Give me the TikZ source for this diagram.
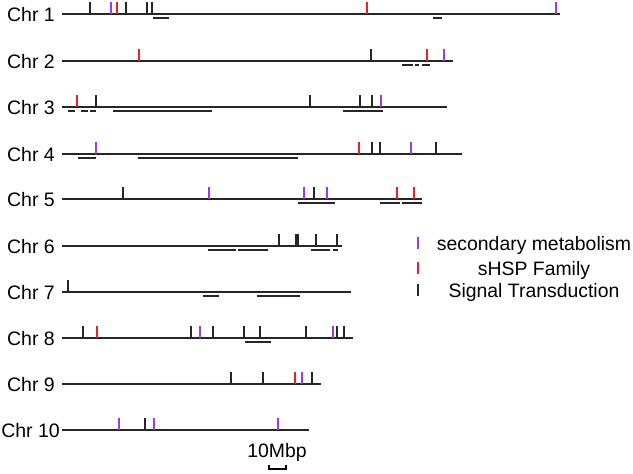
\documentclass[tikz,border=0pt]{standalone}
\usepackage{fontspec}
\setmainfont{Liberation Sans}
\usetikzlibrary{positioning}
\definecolor{smpurple}{RGB}{150,60,235}
\definecolor{hspred}{RGB}{232,32,40}

\begin{document}
\begin{tikzpicture}[
  x=1pt, y=-1pt,
  chrlabel/.style={anchor=base east, inner sep=0pt, font=\fontsize{19.5}{21}\selectfont},
  legtext/.style={anchor=base, inner sep=0pt, font=\fontsize{19.4}{21}\selectfont},
  chrline/.style={line width=1.6pt, black!85},
  under/.style={line width=1.4pt, black!85},
  sig/.style={line width=1.4pt, black!85},
  smb/.style={line width=1.4pt, smpurple},
  hsp/.style={line width=1.4pt, hspred},
]
\useasboundingbox (0,0) rectangle (633,474);

% ---- Chr 1 ----
\node[chrlabel] (c1) at (55,21) {Chr 1};
\draw[chrline] (62,14) -- (560,14);
\foreach \x in {90,126,147,152} \draw[sig] (\x,14) -- ++(0,-12);
\foreach \x in {111,556} \draw[smb] (\x,14) -- ++(0,-12);
\foreach \x in {117,367} \draw[hsp] (\x,14) -- ++(0,-12);
\foreach \a/\b in {153/169,433/442} \draw[under] (\a,18) -- (\b,18);

% ---- Chr 2 ----
\node[chrlabel] (c2) at (55,68) {Chr 2};
\draw[chrline] (62,61) -- (453,61);
\foreach \x in {371} \draw[sig] (\x,61) -- ++(0,-12);
\foreach \x in {444} \draw[smb] (\x,61) -- ++(0,-12);
\foreach \x in {139,427} \draw[hsp] (\x,61) -- ++(0,-12);
\foreach \a/\b in {402/413,415/419,422/430} \draw[under] (\a,65) -- (\b,65);

% ---- Chr 3 ----
\node[chrlabel] (c3) at (55,114) {Chr 3};
\draw[chrline] (62,107) -- (447,107);
\foreach \x in {96,310,360,372} \draw[sig] (\x,107) -- ++(0,-12);
\foreach \x in {381} \draw[smb] (\x,107) -- ++(0,-12);
\foreach \x in {77} \draw[hsp] (\x,107) -- ++(0,-12);
\foreach \a/\b in {68/75,81/88,90/96,113/212,343/383} \draw[under] (\a,111) -- (\b,111);

% ---- Chr 4 ----
\node[chrlabel] (c4) at (55,161) {Chr 4};
\draw[chrline] (62,154) -- (462,154);
\foreach \x in {372,380,436} \draw[sig] (\x,154) -- ++(0,-12);
\foreach \x in {96,411} \draw[smb] (\x,154) -- ++(0,-12);
\foreach \x in {359} \draw[hsp] (\x,154) -- ++(0,-12);
\foreach \a/\b in {78/96,138/298} \draw[under] (\a,158) -- (\b,158);

% ---- Chr 5 ----
\node[chrlabel] (c5) at (55,206) {Chr 5};
\draw[chrline] (62,199) -- (422,199);
\foreach \x in {123,314} \draw[sig] (\x,199) -- ++(0,-12);
\foreach \x in {209,304,327} \draw[smb] (\x,199) -- ++(0,-12);
\foreach \x in {397,414} \draw[hsp] (\x,199) -- ++(0,-12);
\foreach \a/\b in {298/335,380/400,402/422} \draw[under] (\a,203) -- (\b,203);

% ---- Chr 6 ----
\node[chrlabel] (c6) at (55,253) {Chr 6};
\draw[chrline] (62,246) -- (342,246);
\foreach \x in {279,296,298,316,337} \draw[sig] (\x,246) -- ++(0,-12);
\foreach \a/\b in {208/236,238/268,311/330,333/338} \draw[under] (\a,250) -- (\b,250);

% ---- Chr 7 ----
\node[chrlabel] (c7) at (55,299) {Chr 7};
\draw[chrline] (62,292) -- (351,292);
\foreach \x in {68} \draw[sig] (\x,292) -- ++(0,-12);
\foreach \a/\b in {203/219,257/300} \draw[under] (\a,296) -- (\b,296);

% ---- Chr 8 ----
\node[chrlabel] (c8) at (55,345) {Chr 8};
\draw[chrline] (62,338) -- (353,338);
\foreach \x in {83,191,213,244,260,306,337,344} \draw[sig] (\x,338) -- ++(0,-12);
\foreach \x in {200,333} \draw[smb] (\x,338) -- ++(0,-12);
\foreach \x in {97} \draw[hsp] (\x,338) -- ++(0,-12);
\foreach \a/\b in {245/271} \draw[under] (\a,342) -- (\b,342);

% ---- Chr 9 ----
\node[chrlabel] (c9) at (55,391) {Chr 9};
\draw[chrline] (62,384) -- (321,384);
\foreach \x in {231,263,312} \draw[sig] (\x,384) -- ++(0,-12);
\foreach \x in {302} \draw[smb] (\x,384) -- ++(0,-12);
\foreach \x in {295} \draw[hsp] (\x,384) -- ++(0,-12);

% ---- Chr 10 ----
\node[chrlabel] (c10) at (60,437) {Chr 10};
\draw[chrline] (62,430) -- (309,430);
\foreach \x in {145} \draw[sig] (\x,430) -- ++(0,-12);
\foreach \x in {119,154,278} \draw[smb] (\x,430) -- ++(0,-12);

% ---- scale ----
\node[legtext] (scl) at (277,457) {10Mbp};
\draw[line width=1.3pt] (269,465) -- (269,469) -- (286,469) -- (286,465);

% ---- legend ----
\draw[smb] (418,237) -- (418,249);
\draw[hsp] (418,262) -- (418,274);
\draw[sig] (418,284) -- (418,296);
\node[legtext] (lsm)  at (534,250) {secondary metabolism};
\node[legtext] (lhsp) at (534,275) {sHSP Family};
\node[legtext] (lsig) at (534,297) {Signal Transduction};

\end{tikzpicture}
\end{document}
